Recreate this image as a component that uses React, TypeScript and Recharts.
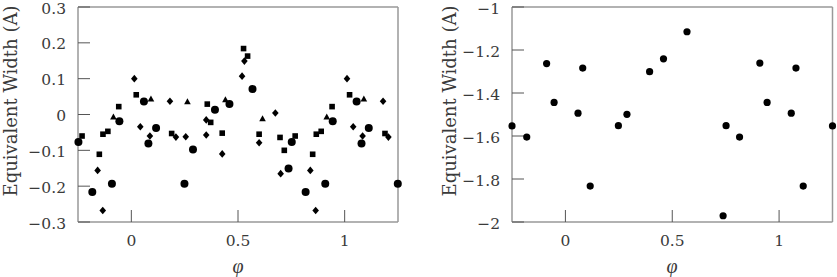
import React from 'react';
import { ScatterChart, Scatter, XAxis, YAxis } from 'recharts';

// ---------- Data (left panel) ----------
const circlePhase = [-0.248, -0.183, -0.091, -0.056, 0.059, 0.080, 0.116, 0.249, 0.289, 0.392, 0.460, 0.568, 0.737, 0.752, 0.817, 0.909, 0.944, 1.056, 1.079, 1.113, 1.249];
const circleEW = [-0.077, -0.216, -0.193, -0.019, 0.036, -0.081, -0.038, -0.193, -0.098, 0.013, 0.029, 0.071, -0.151, -0.077, -0.216, -0.193, -0.019, 0.036, -0.081, -0.038, -0.193];

const squarePhase = [-0.231, -0.150, -0.133, -0.110, -0.059, 0.023, 0.189, 0.356, 0.372, 0.426, 0.526, 0.545, 0.599, 0.697, 0.717, 0.768, 0.850, 0.867, 0.890, 0.941, 1.023, 1.189];
const squareEW = [-0.060, -0.111, -0.055, -0.047, 0.022, 0.055, -0.053, 0.029, -0.022, -0.052, 0.184, 0.163, -0.055, -0.064, -0.100, -0.060, -0.111, -0.055, -0.047, 0.022, 0.055, -0.053];

const trianglePhase = [-0.084, 0.092, 0.263, 0.441, 0.615, 0.916, 1.090];
const triangleEW = [-0.007, 0.043, 0.035, 0.041, -0.012, -0.007, 0.043];

const diamondPhase = [-0.158, -0.134, 0.014, 0.042, 0.087, 0.181, 0.209, 0.255, 0.351, 0.351, 0.426, 0.519, 0.530, 0.599, 0.675, 0.700, 0.839, 0.864, 1.011, 1.040, 1.084, 1.180, 1.205];
const diamondEW = [-0.156, -0.268, 0.100, -0.034, -0.060, 0.037, -0.063, -0.062, -0.015, -0.057, -0.110, 0.107, 0.149, -0.079, 0.004, -0.165, -0.156, -0.268, 0.100, -0.034, -0.060, 0.037, -0.063];

// ---------- Data (right panel) ----------
const rightPhase = [-0.250, -0.181, -0.088, -0.053, 0.059, 0.081, 0.116, 0.248, 0.288, 0.394, 0.459, 0.569, 0.738, 0.752, 0.815, 0.910, 0.944, 1.057, 1.079, 1.113, 1.250];
const rightEW = [-1.553, -1.605, -1.263, -1.444, -1.494, -1.284, -1.833, -1.552, -1.499, -1.301, -1.241, -1.115, -1.971, -1.552, -1.605, -1.261, -1.444, -1.494, -1.284, -1.833, -1.553];

// ---------- Ticks ----------
const xMajorTicks = [0, 0.5, 1];
const xMinorTicks = [-0.2, -0.1, 0.1, 0.2, 0.3, 0.4, 0.6, 0.7, 0.8, 0.9, 1.1, 1.2];
const leftYMajorTicks = [-0.3, -0.2, -0.1, 0, 0.1, 0.2, 0.3];
const leftYMinorTicks = [-0.25, -0.15, -0.05, 0.05, 0.15, 0.25];
const rightYMajorTicks = [-2, -1.8, -1.6, -1.4, -1.2, -1];
const rightYMinorTicks = [-1.95, -1.9, -1.85, -1.75, -1.7, -1.65, -1.55, -1.5, -1.45, -1.35, -1.3, -1.25, -1.15, -1.1, -1.05];

const xDomain: [number, number] = [-0.25, 1.25];
const leftYDomain: [number, number] = [-0.3, 0.3];
const rightYDomain: [number, number] = [-2, -1];

const zip = (xs: number[], ys: number[]) => xs.map((x, i) => ({ x, y: ys[i] }));

const FONT = '"DejaVu Serif", serif';
const TEXT_COLOR = '#3a3a3a';
const TICK_COLOR = '#555';
const AXIS_COLOR = '#999';
const MAJOR_LEN = 12;
const MINOR_LEN = 6;
const TICK_FS = 15.5;

const fmt = (v: number) => String(Math.round(v * 10) / 10).replace('-', '\u2212');

const BottomLabel = (props: any) => (
  <text x={props.x} y={props.y + 19} textAnchor="middle" dominantBaseline="central" fontFamily={FONT} fontSize={TICK_FS} fill={TEXT_COLOR}>
    {fmt(props.payload.value)}
  </text>
);
const LeftLabel = (props: any) => (
  <text x={props.x - 12} y={Math.max(props.y + 1.5, 9)} textAnchor="end" dominantBaseline="central" fontFamily={FONT} fontSize={TICK_FS} fill={TEXT_COLOR}>
    {fmt(props.payload.value)}
  </text>
);

const CircleShape = (r: number) => (p: any) => <circle cx={p.cx} cy={p.cy} r={r} fill="#000" />;
const SquareShape = (p: any) => <rect x={p.cx - 2.8} y={p.cy - 2.8} width={5.6} height={5.6} fill="#000" />;
const DiamondShape = (p: any) => (
  <polygon points={`${p.cx},${p.cy - 3.8} ${p.cx + 3.3},${p.cy} ${p.cx},${p.cy + 3.8} ${p.cx - 3.3},${p.cy}`} fill="#000" />
);
const TriangleShape = (p: any) => (
  <polygon points={`${p.cx},${p.cy - 3.6} ${p.cx + 3.3},${p.cy + 2.4} ${p.cx - 3.3},${p.cy + 2.4}`} fill="#000" />
);
const NoShape = () => <g />;

const axisLine = { stroke: AXIS_COLOR, strokeWidth: 1.5 };
const tickLineStyle = { stroke: TICK_COLOR, strokeWidth: 1 };

// The 8 axes of one framed panel: major + minor inward ticks on each of the four sides.
function panelAxes(yDomain: [number, number], yMajors: number[], yMinors: number[]) {
  const common = { type: 'number' as const, interval: 0 as const, tickMargin: 0, tickLine: tickLineStyle };
  return [
    <XAxis key="bM" xAxisId="bM" dataKey="x" {...common} domain={xDomain} ticks={xMajorTicks} height={1} tickSize={-MAJOR_LEN} tick={(p: any) => <BottomLabel {...p} y={p.y + MAJOR_LEN} />} axisLine={axisLine} />,
    <XAxis key="bm" xAxisId="bm" dataKey="x" {...common} domain={xDomain} ticks={xMinorTicks} height={1} tickSize={-MINOR_LEN} tick={false} axisLine={false} />,
    <XAxis key="tM" xAxisId="tM" orientation="top" dataKey="x" {...common} domain={xDomain} ticks={xMajorTicks} height={1} tickSize={-MAJOR_LEN} tick={false} axisLine={axisLine} />,
    <XAxis key="tm" xAxisId="tm" orientation="top" dataKey="x" {...common} domain={xDomain} ticks={xMinorTicks} height={1} tickSize={-MINOR_LEN} tick={false} axisLine={false} />,
    <YAxis key="lM" yAxisId="lM" dataKey="y" {...common} domain={yDomain} ticks={yMajors} width={1} tickSize={-MAJOR_LEN} tick={(p: any) => <LeftLabel {...p} x={p.x - MAJOR_LEN} />} axisLine={axisLine} />,
    <YAxis key="lm" yAxisId="lm" dataKey="y" {...common} domain={yDomain} ticks={yMinors} width={1} tickSize={-MINOR_LEN} tick={false} axisLine={false} />,
    <YAxis key="rM" yAxisId="rM" orientation="right" dataKey="y" {...common} domain={yDomain} ticks={yMajors} width={1} tickSize={-MAJOR_LEN} tick={false} axisLine={axisLine} />,
    <YAxis key="rm" yAxisId="rm" orientation="right" dataKey="y" {...common} domain={yDomain} ticks={yMinors} width={1} tickSize={-MINOR_LEN} tick={false} axisLine={false} />,
  ];
}

const PHI_FONT = '"Liberation Serif", "DejaVu Serif", serif';

export default function App() {
  return (
    <div style={{ position: 'absolute', left: 0, top: 0, width: 837, height: 277, background: '#fff' }}>
      <div style={{ position: 'absolute', left: 0, top: 0 }}>
        <ScatterChart width={420} height={277} margin={{ top: 5, left: 76, right: 20, bottom: 53 }}>
          {panelAxes(leftYDomain, leftYMajorTicks, leftYMinorTicks)}
          <Scatter xAxisId="bm" yAxisId="lm" data={zip(squarePhase, squareEW)} shape={SquareShape} isAnimationActive={false} />
          <Scatter xAxisId="tM" yAxisId="rM" data={zip(diamondPhase, diamondEW)} shape={DiamondShape} isAnimationActive={false} />
          <Scatter xAxisId="tm" yAxisId="rm" data={zip(trianglePhase, triangleEW)} shape={TriangleShape} isAnimationActive={false} />
          <Scatter xAxisId="bM" yAxisId="lM" data={zip(circlePhase, circleEW)} shape={CircleShape(4)} isAnimationActive={false} />
        </ScatterChart>
      </div>
      <div style={{ position: 'absolute', left: 420, top: 0 }}>
        <ScatterChart width={417} height={277} margin={{ top: 5, left: 90, right: 2.5, bottom: 53 }}>
          {panelAxes(rightYDomain, rightYMajorTicks, rightYMinorTicks)}
          <Scatter xAxisId="bm" yAxisId="lm" data={zip(rightPhase, rightEW)} shape={NoShape} isAnimationActive={false} />
          <Scatter xAxisId="tM" yAxisId="rM" data={zip(rightPhase, rightEW)} shape={NoShape} isAnimationActive={false} />
          <Scatter xAxisId="tm" yAxisId="rm" data={zip(rightPhase, rightEW)} shape={NoShape} isAnimationActive={false} />
          <Scatter xAxisId="bM" yAxisId="lM" data={zip(rightPhase, rightEW)} shape={CircleShape(3.6)} isAnimationActive={false} />
        </ScatterChart>
      </div>
      <svg width={837} height={277} style={{ position: 'absolute', left: 0, top: 0, pointerEvents: 'none' }}>
        <text transform="translate(10,101) rotate(-90)" textAnchor="middle" dominantBaseline="central" fontFamily={FONT} fontSize={18} fill={TEXT_COLOR}>
          Equivalent Width (A)
        </text>
        <text transform="translate(449,101) rotate(-90)" textAnchor="middle" dominantBaseline="central" fontFamily={FONT} fontSize={18} fill={TEXT_COLOR}>
          Equivalent Width (A)
        </text>
        <text x={238} y={266} textAnchor="middle" dominantBaseline="central" fontFamily={PHI_FONT} fontStyle="italic" fontSize={20} fill={TEXT_COLOR}>
          φ
        </text>
        <text x={672} y={266} textAnchor="middle" dominantBaseline="central" fontFamily={PHI_FONT} fontStyle="italic" fontSize={20} fill={TEXT_COLOR}>
          φ
        </text>
      </svg>
    </div>
  );
}
